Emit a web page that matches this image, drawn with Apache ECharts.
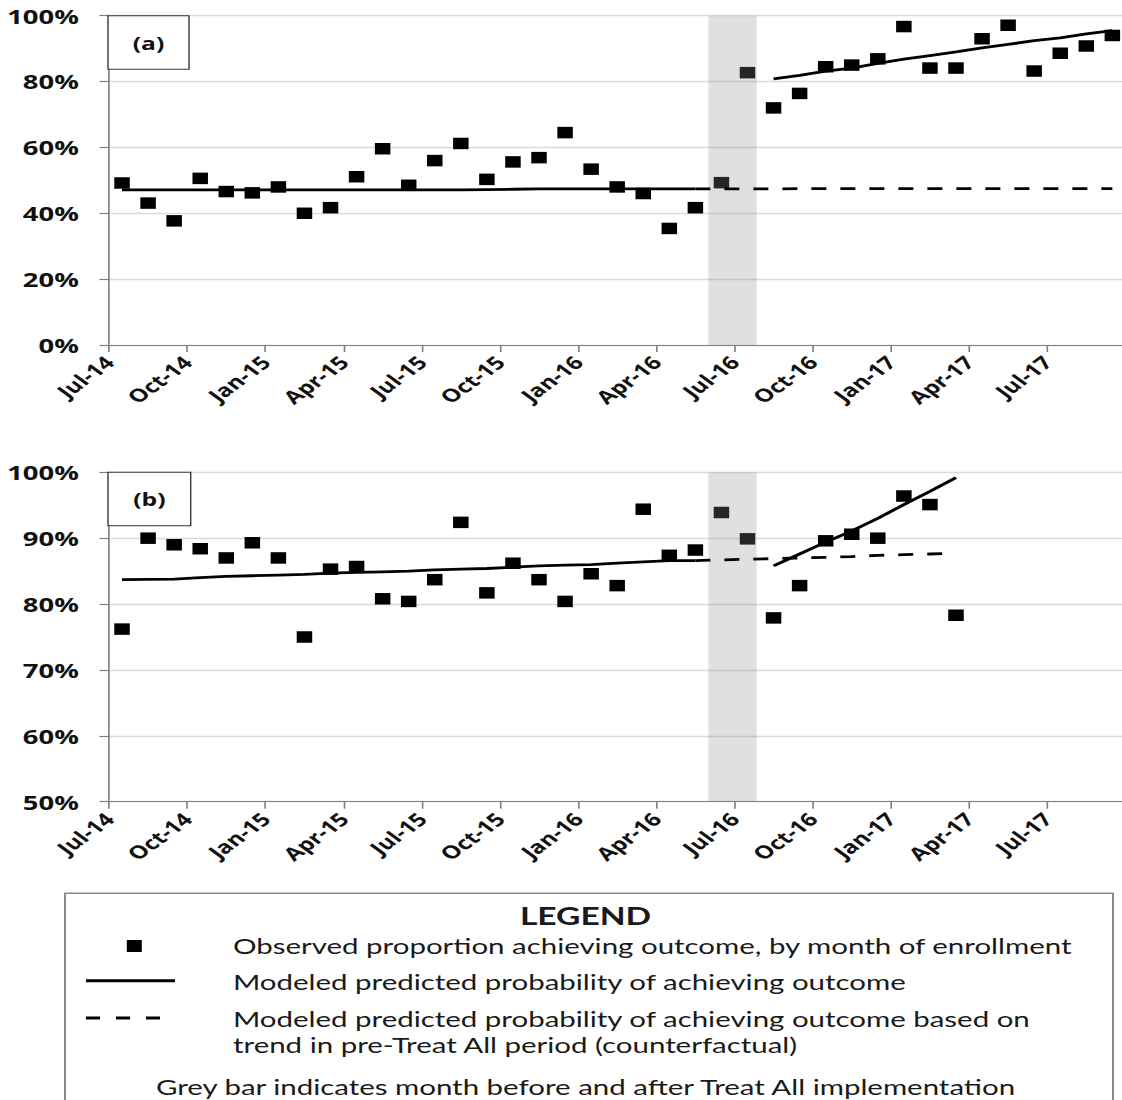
<!DOCTYPE html>
<html>
<head>
<meta charset="utf-8">
<title>Treat All interrupted time series</title>
<script src="https://cdn.jsdelivr.net/npm/echarts@6/dist/echarts.min.js"></script>
<style>
  html, body { margin: 0; padding: 0; background: #fff; overflow: hidden; }
  #chart { width: 819px; height: 1100px; transform-origin: 0 0; }
</style>
</head>
<body>
<div id="chart"></div>
<script>
// ---- data -------------------------------------------------------------
// Month index 0 = Jul-14; each monthly value is plotted mid-month.
const tickLabels = ['Jul-14', 'Oct-14', 'Jan-15', 'Apr-15', 'Jul-15', 'Oct-15', 'Jan-16',
                    'Apr-16', 'Jul-16', 'Oct-16', 'Jan-17', 'Apr-17', 'Jul-17'];
const tickMonths = [0, 3, 6, 9, 12, 15, 18, 21, 24, 27, 30, 33, 36];

// Panel (a): observed proportion, Jul-14 .. Sep-17
const observedA = [49.2, 43.1, 37.7, 50.6, 46.6, 46.2, 48.0, 40.0, 41.7, 51.1, 59.6, 48.5,
                   56.0, 61.2, 50.3, 55.6, 56.9, 64.5, 53.4, 48.0, 46.0, 35.4, 41.7, 49.3,
                   82.7, 72.0, 76.4, 84.5, 85.0, 86.9, 96.7, 84.1, 84.1, 93.0, 97.1, 83.2,
                   88.6, 90.8, 94.0];
// modeled, pre-Treat All: Jul-14 .. May-16
const modelPreA = [47.1, 47.1, 47.1, 47.1, 47.1, 47.1, 47.1, 47.1, 47.1, 47.1, 47.1, 47.1,
                   47.1, 47.1, 47.2, 47.3, 47.4, 47.4, 47.4, 47.4, 47.4, 47.4, 47.4];
// counterfactual from pre-period trend: May-16 .. Sep-17
const counterfactualA = [47.4, 47.4, 47.4, 47.4, 47.5, 47.5, 47.5, 47.5, 47.5, 47.5, 47.5,
                         47.5, 47.5, 47.5, 47.5, 47.5, 47.5];
// modeled, post-Treat All: Aug-16 .. Sep-17
const modelPostA = [80.8, 81.9, 83.2, 84.1, 85.5, 86.8, 87.9, 89.0, 90.2, 91.3, 92.4, 93.3,
                    94.5, 95.5];

// Panel (b): observed proportion, Jul-14 .. Mar-17
const observedB = [76.2, 90.0, 89.0, 88.4, 87.0, 89.3, 87.0, 75.0, 85.3, 85.7, 80.8, 80.4,
                   83.7, 92.4, 81.7, 86.2, 83.7, 80.4, 84.6, 82.8, 94.4, 87.4, 88.2, 93.9,
                   89.9, 77.9, 82.8, 89.6, 90.6, 90.0, 96.4, 95.1, 78.3];
const modelPreB = [83.7, 83.75, 83.8, 84.0, 84.2, 84.3, 84.4, 84.5, 84.7, 84.8, 84.9, 85.0,
                   85.2, 85.3, 85.4, 85.6, 85.8, 85.9, 86.0, 86.2, 86.4, 86.6, 86.6];
const counterfactualB = [86.6, 86.7, 86.8, 86.9, 87.0, 87.1, 87.2, 87.4, 87.5, 87.6, 87.7];
const modelPostB = [85.8, 87.6, 89.4, 91.1, 93.0, 95.1, 97.1, 99.2];

// first month index of each series
const PRE_START = 0;
const CF_START = 22;
const POST_START = 25;

// month before and after Treat All implementation (Jun-16 .. Jul-16)
const treatAllWindow = [23, 24.85];

// time axis runs from Jul-14 to late Sep-17
const X_MIN = 0;
const X_MAX = 38.87;

const legendTitle = 'LEGEND';
const legendObserved = 'Observed proportion achieving outcome, by month of enrollment';
const legendModel = 'Modeled predicted probability of achieving outcome';
const legendCf1 = 'Modeled predicted probability of achieving outcome based on';
const legendCf2 = 'trend in pre-Treat All period (counterfactual)';
const legendNote = 'Grey bar indicates month before and after Treat All implementation';

// ---- layout -------------------------------------------------------------
// The figure is laid out in an 819px-wide frame and widened to the page.
const FRAME_W = 819;
const STRETCH = 1122 / FRAME_W;
const px = v => v / STRETCH;           // page x -> frame x

const el = document.getElementById('chart');
el.style.transform = 'scaleX(' + STRETCH + ')';
const chart = echarts.init(el, null, { renderer: 'svg', width: FRAME_W, height: 1100 });

const FONT = "'Open Sans', 'DejaVu Sans', sans-serif";
const LEGEND_FONT = "Lato, 'Open Sans', sans-serif";
const INK = '#111';
const AXIS_GREY = '#808080';

const plotLeft = px(109);
const plotRight = 0;

const toXY = (vals, start) => vals.map((v, i) => [start + i + 0.5, v]);

function xAxisFor(idx) {
  return {
    type: 'value', gridIndex: idx, min: X_MIN, max: X_MAX, interval: 3,
    axisLine: { show: true, onZero: false, lineStyle: { color: AXIS_GREY, width: 1.2 } },
    axisTick: { show: true, length: 7, customValues: tickMonths,
                lineStyle: { color: AXIS_GREY, width: 1.2 } },
    splitLine: { show: false },
    axisLabel: {
      rotate: 45, margin: 14, fontSize: 18, fontWeight: 'bold', fontFamily: FONT, color: INK,
      customValues: tickMonths,
      formatter: v => tickLabels[tickMonths.indexOf(v)] || ''
    }
  };
}
function yAxisFor(idx, min, interval) {
  return {
    type: 'value', gridIndex: idx, min: min, max: 100, interval: interval,
    axisLine: { show: true, lineStyle: { color: AXIS_GREY, width: 1.2 } },
    axisTick: { show: true, length: 7, lineStyle: { color: AXIS_GREY, width: 1.2 } },
    splitLine: { show: true, lineStyle: { color: '#dadada', width: 1.3 } },
    axisLabel: {
      margin: 22, fontSize: 20, fontWeight: 'bold', fontFamily: FONT, color: INK,
      formatter: '{value}%'
    }
  };
}

function panelSeries(idx, observed, pre, cf, post) {
  const line = (data, dashed) => ({
    type: 'line', xAxisIndex: idx, yAxisIndex: idx, data: data, z: 4,
    symbol: 'none', silent: true, smooth: false,
    lineStyle: { color: '#000', width: 2.8, type: dashed ? [px(15), px(14)] : 'solid', cap: 'butt' }
  });
  return [
    {
      type: 'scatter', xAxisIndex: idx, yAxisIndex: idx, z: 2, silent: true,
      symbol: 'rect', symbolSize: [px(15.5), 11.5],
      itemStyle: { color: '#000', opacity: 1 },
      data: toXY(observed, 0)
    },
    {
      // translucent grey band over the implementation months
      type: 'custom', xAxisIndex: idx, yAxisIndex: idx, z: 3, silent: true,
      encode: { x: [0, 1] },
      data: [treatAllWindow],
      renderItem: (params, api) => {
        const cs = params.coordSys;
        const a = api.coord([api.value(0), 0])[0];
        const b = api.coord([api.value(1), 0])[0];
        return {
          type: 'rect',
          shape: { x: a, y: cs.y, width: b - a, height: cs.height },
          style: { fill: 'rgba(140,140,140,0.27)' }
        };
      }
    },
    line(toXY(pre, PRE_START), false),
    line(toXY(cf, CF_START), true),
    line(toXY(post, POST_START), false)
  ];
}

function panelTag(label, top, bottom, right) {
  return [
    {
      type: 'rect', z: 100,
      shape: { x: px(108), y: top, width: px(right) - px(108), height: bottom - top },
      style: { fill: '#fff', stroke: '#333', lineWidth: 1 }
    },
    {
      type: 'text', z: 101, x: px((108 + right) / 2), y: (top + bottom) / 2,
      style: { text: label, fontSize: 18, fontWeight: 'bold', fontFamily: FONT, fill: INK,
               align: 'center', verticalAlign: 'middle' }
    }
  ];
}

const legendText = (text, x, y, extra) => Object.assign({
  type: 'text', z: 100, x: x, y: y,
  style: Object.assign({ text: text, fontSize: 21.5, fontFamily: LEGEND_FONT, fill: '#1a1a1a',
                         align: 'left', verticalAlign: 'middle' }, extra || {})
});

const graphics = [].concat(
  panelTag('(a)', 15.7, 69.3, 189),
  panelTag('(b)', 472.3, 525.7, 190.7),
  [
    {
      type: 'rect', z: 99,
      shape: { x: px(65), y: 893.3, width: px(1113) - px(65), height: 260 },
      style: { fill: '#fff', stroke: '#8a8a8a', lineWidth: 1.5 }
    },
    legendText(legendTitle, px(585.5), 915, { fontSize: 24.5, fontWeight: 'bold', align: 'center' }),
    {
      type: 'rect', z: 100,
      shape: { x: px(126.8), y: 940, width: px(15), height: 12 },
      style: { fill: '#000' }
    },
    legendText(legendObserved, px(233), 945.5),
    {
      type: 'line', z: 100,
      shape: { x1: px(86), y1: 980.7, x2: px(175), y2: 980.7 },
      style: { stroke: '#000', lineWidth: 3 }
    },
    legendText(legendModel, px(233), 982),
    {
      type: 'line', z: 100,
      shape: { x1: px(86), y1: 1018, x2: px(160), y2: 1018 },
      style: { stroke: '#000', lineWidth: 3, lineDash: [px(14), px(16)] }
    },
    legendText(legendCf1, px(233), 1019),
    legendText(legendCf2, px(233), 1045),
    legendText(legendNote, px(585.5), 1087, { align: 'center' })
  ]
);

chart.setOption({
  animation: false,
  backgroundColor: '#fff',
  grid: [
    { left: plotLeft, right: plotRight, top: 15.7, height: 329.3, containLabel: false },
    { left: plotLeft, right: plotRight, top: 472.3, height: 329.4, containLabel: false }
  ],
  xAxis: [xAxisFor(0), xAxisFor(1)],
  yAxis: [yAxisFor(0, 0, 20), yAxisFor(1, 50, 10)],
  series: [].concat(
    panelSeries(0, observedA, modelPreA, counterfactualA, modelPostA),
    panelSeries(1, observedB, modelPreB, counterfactualB, modelPostB)
  ),
  graphic: graphics
});
</script>
</body>
</html>
